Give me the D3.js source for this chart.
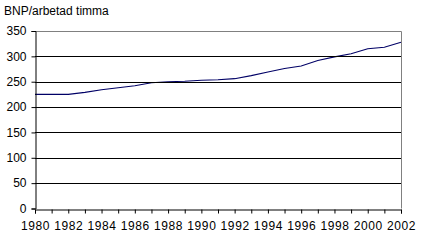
<!DOCTYPE html>
<html>
<head>
<meta charset="utf-8">
<script src="https://cdn.jsdelivr.net/npm/d3@7"></script>
<style>
  body { margin: 0; background: #fff; }
  svg text { font-family: Arial, "Liberation Sans", sans-serif; fill: #000; }
</style>
</head>
<body>
<svg id="chart" width="426" height="243"></svg>
<script>
// data
var years = d3.range(1980, 2003)
var bnp = [225, 225, 225, 229, 234, 238, 242, 248, 250, 251, 253, 254, 256,
           262, 269, 276, 281, 292, 299, 305, 315, 318, 328]
var yTicks = [0, 50, 100, 150, 200, 250, 300, 350]
var title = 'BNP/arbetad timma'

// layout (plot area edges)
var plotLeft = 35, plotRight = 401, plotTop = 31, plotBottom = 208.5
var svg = d3.select('#chart')

var x = d3.scaleLinear().domain([1980, 2002]).range([plotLeft, plotRight])
var y = d3.scaleLinear().domain([0, 350]).range([plotBottom, plotTop])

// series line (drawn first, so the gridlines sit on top as in the original)
var line = d3.line()
  .x(function(d, i) { return x(years[i]) })
  .y(function(d) { return y(d) })
svg.append('path')
  .datum(bnp)
  .attr('d', line)
  .attr('fill', 'none')
  .attr('stroke', '#000066')
  .attr('stroke-width', 1.1)

// gridlines
svg.append('g')
  .selectAll('line')
  .data(yTicks.filter(function(d) { return d > 0 && d < 350 }))
  .join('line')
  .attr('x1', plotLeft).attr('x2', plotRight)
  .attr('y1', function(d) { return Math.round(y(d)) + 0.5 })
  .attr('y2', function(d) { return Math.round(y(d)) + 0.5 })
  .attr('stroke', '#000')

// plot border (top, right)
svg.append('path')
  .attr('d', 'M' + plotLeft + ',' + (plotTop + 0.5) + 'H' + (plotRight + 0.5) + 'V' + plotBottom)
  .attr('fill', 'none')
  .attr('stroke', '#808080')

// y axis
var yAxis = d3.axisLeft(y).tickValues(yTicks).tickSize(4).tickPadding(5)
var gy = svg.append('g')
  .attr('transform', 'translate(' + (plotLeft + 0.5) + ',0)')
  .call(yAxis)
gy.select('.domain').attr('stroke', '#000')
gy.selectAll('.tick line').attr('stroke', '#000')
gy.selectAll('text').attr('font-size', 12)

// x axis
var xAxis = d3.axisBottom(x).tickValues(years).tickSize(4).tickPadding(8)
  .tickFormat(function(d) { return d % 2 === 0 ? d : '' })
var gx = svg.append('g')
  .attr('transform', 'translate(0,' + (Math.round(plotBottom) + 0.5) + ')')
  .call(xAxis)
gx.select('.domain').attr('stroke', '#000')
gx.selectAll('.tick line').attr('stroke', '#000')
gx.selectAll('text').attr('font-size', 12).attr('letter-spacing', '0.6px')

// title
svg.append('text')
  .attr('x', 4).attr('y', 15)
  .attr('font-size', 12)
  .text(title)
</script>
</body>
</html>
